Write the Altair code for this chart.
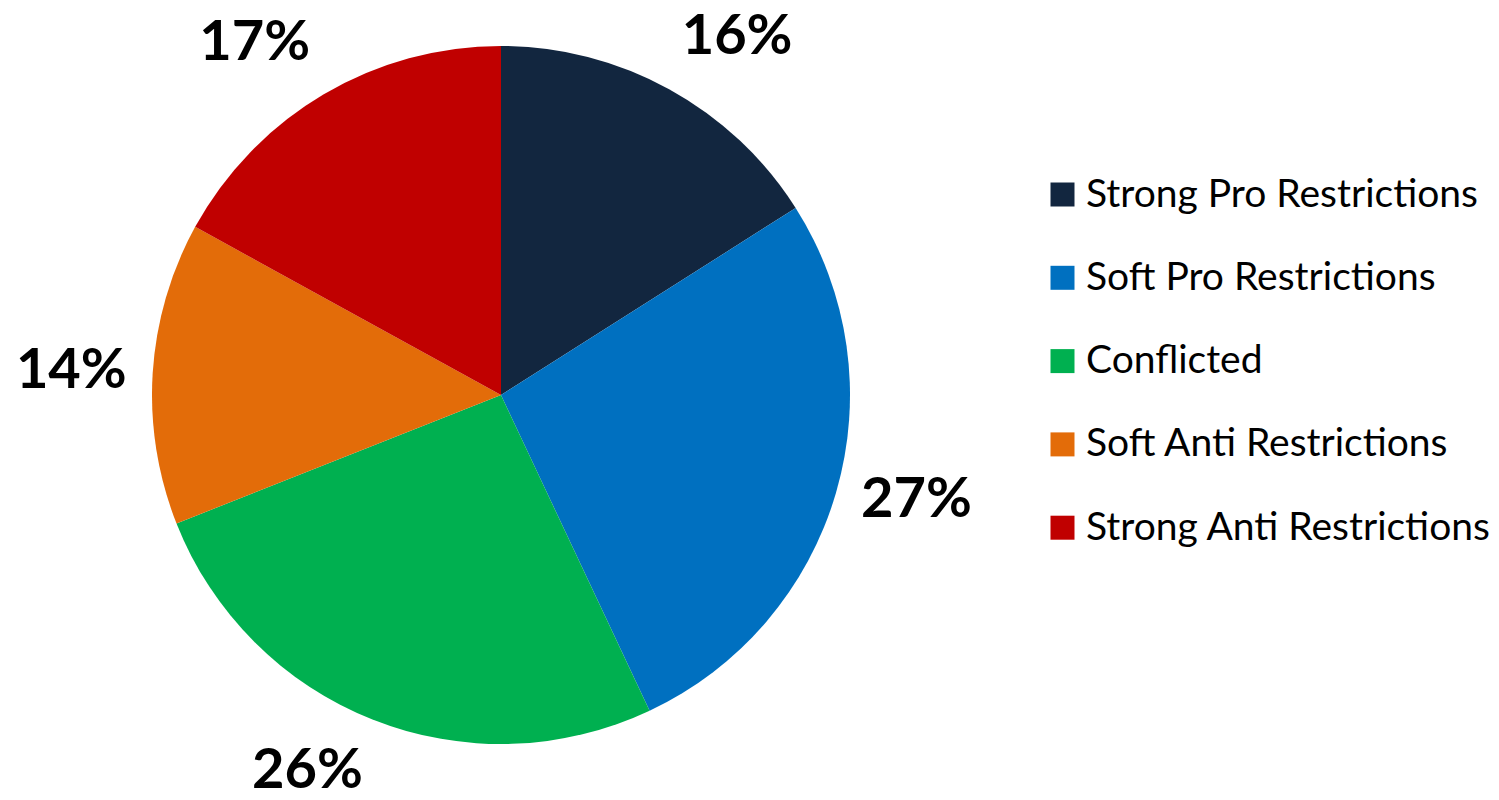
import altair as alt
import pandas as pd

categories = ["Strong Pro Restrictions", "Soft Pro Restrictions", "Conflicted",
              "Soft Anti Restrictions", "Strong Anti Restrictions"]
values = [16, 27, 26, 14, 17]
labels = ["16%", "27%", "26%", "14%", "17%"]
colors = ["#12263F", "#0070C0", "#00B050", "#E36C09", "#C00000"]

df = pd.DataFrame({"category": categories, "value": values, "label": labels,
                   "order": list(range(len(categories)))})

cx, cy = 493, 387
theta_scale = alt.Scale(domain=[0, sum(values)])

base = alt.Chart(df).transform_stack(
    stack="value", groupby=[], as_=["v0", "v1"], sort=[alt.SortField("order")]
).transform_calculate(mid="(datum.v0 + datum.v1) / 2")

arcs = base.mark_arc(outerRadius=349).encode(
    theta=alt.Theta("v0:Q", scale=theta_scale),
    theta2="v1:Q",
    x=alt.value(cx), y=alt.value(cy),
    color=alt.Color("category:N",
                    scale=alt.Scale(domain=categories, range=colors),
                    sort=categories,
                    legend=alt.Legend(title=None, orient="none", legendX=1035, legendY=167,
                                      symbolType="square", symbolSize=576,
                                      symbolStrokeWidth=0, labelFontSize=39,
                                      labelFont="Lato", labelColor="#000000",
                                      labelOffset=4, rowPadding=43.3, padding=0,
                                      labelLimit=600)),
)

# outside-end label anchoring (like a spreadsheet pie): text box sits beside the anchor point
placement = {
    "Strong Pro Restrictions": ("left", "bottom"),
    "Soft Pro Restrictions": ("left", "middle"),
    "Conflicted": ("right", "top"),
    "Soft Anti Restrictions": ("right", "middle"),
    "Strong Anti Restrictions": ("right", "bottom"),
}

layers = [arcs]
for cat in categories:
    al, bl = placement[cat]
    layers.append(
        base.transform_filter(alt.datum.category == cat).mark_text(
            radius=375, fontSize=56, fontWeight="bold", font="Lato",
            color="#000000", align=al, baseline=bl).encode(
            theta=alt.Theta("mid:Q", scale=theta_scale),
            x=alt.value(cx), y=alt.value(cy),
            text="label:N",
        )
    )

chart = alt.layer(*layers).properties(
    width=1483, height=784, padding=0,
    autosize=alt.AutoSizeParams(type="none"),
).configure_view(stroke=None)

chart.save("out.html", embed_options={"renderer": "svg", "actions": False})
